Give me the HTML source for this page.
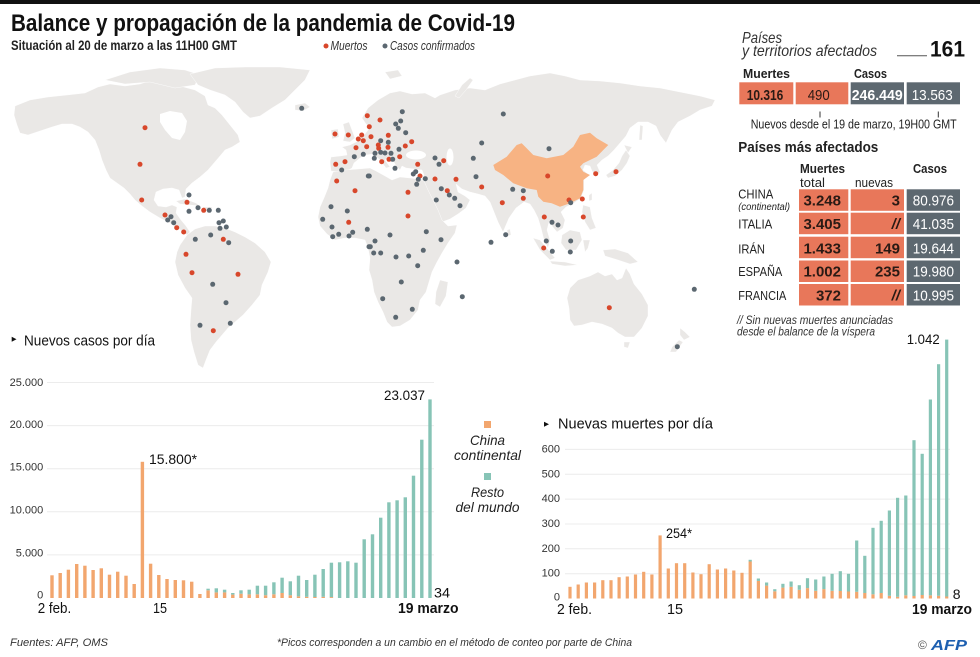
<!DOCTYPE html>
<html><head><meta charset="utf-8"><style>
html,body{margin:0;padding:0;background:#fff;}
body{width:980px;height:657px;overflow:hidden;}
svg{display:block;}
text{font-family:"Liberation Sans",Arial,sans-serif;}
</style></head><body>
<svg width="980" height="657" viewBox="0 0 980 657" xmlns="http://www.w3.org/2000/svg">
<rect x="0" y="0" width="980" height="657" fill="#fff"/>
<rect x="0" y="0" width="980" height="4" fill="#111"/>

<!-- Title -->
<text x="11" y="31" font-size="24" font-weight="bold" fill="#111" textLength="504" lengthAdjust="spacingAndGlyphs">Balance y propagación de la pandemia de Covid-19</text>
<text x="11" y="50" font-size="14" font-weight="bold" fill="#222" textLength="226" lengthAdjust="spacingAndGlyphs">Situación al 20 de marzo a las 11H00 GMT</text>
<circle cx="326" cy="46" r="2.5" fill="#d8472b"/>
<text x="330.5" y="50" font-size="13" font-style="italic" fill="#333" textLength="37" lengthAdjust="spacingAndGlyphs">Muertos</text>
<circle cx="385" cy="46" r="2.5" fill="#5b6770"/>
<text x="390" y="50" font-size="13" font-style="italic" fill="#333" textLength="85" lengthAdjust="spacingAndGlyphs">Casos confirmados</text>

<!-- MAP -->
<g fill="#eae8e6" stroke="#fff" stroke-width="0.4">
<path d="M15,106 L30,100 L48,97 L67,95 L85,93 L98,87 L110,84 L125,86 L140,84 L152,80 L165,82 L180,86 L195,90 L205,96 L208,105 L215,108 L222,115 L230,125 L238,135 L240,142 L232,147 L225,150 L220,156 L214,163 L208,170 L200,177 L192,183 L186,189 L185,197 L182,198 L179,190 L172,188 L163,189 L156,192 L154,200 L158,206 L166,207 L172,205 L177,207 L176,213 L181,220 L186,226 L190,232 L187,235 L182,231 L176,227 L168,222 L160,218 L150,212 L142,206 L135,200 L130,194 L124,188 L117,183 L110,178 L106,170 L102,160 L99,150 L95,140 L88,132 L80,127 L72,124 L62,124 L52,127 L40,131 L28,135 L20,133 L17,125 L14,115 Z"/>
<path d="M105,80 L130,72 L160,68 L185,70 L200,75 L195,85 L175,88 L150,82 L125,84 Z"/>
<path d="M190,74 L215,68 L245,67 L280,67 L310,70 L305,80 L295,90 L285,100 L272,108 L260,116 L250,118 L243,112 L235,102 L225,95 L210,90 L198,85 Z"/>
<path d="M295,105 L305,103 L310,107 L303,111 L295,110 Z"/>
<path d="M176,201 L185,199 L196,203 L200,206 L190,205 L180,204 Z"/>
<path d="M203,207 L212,207 L211,211 L203,211 Z"/>
<path d="M187,235 L195,229 L205,226 L215,226 L225,228 L235,232 L245,237 L255,243 L265,252 L271,262 L268,272 L262,285 L260,295 L252,305 L243,315 L235,322 L228,328 L222,335 L216,342 L210,350 L206,360 L203,368 L198,365 L194,352 L191,340 L190,325 L191,310 L192,298 L185,288 L178,275 L175,262 L177,252 L180,245 Z"/>
<path d="M331,171 L330,162 L331,157 L340,156 L347,155 L346,150 L342,147 L350,145 L356,142 L360,138 L365,134 L368,130 L370,127 L366,124 L362,118 L368,108 L378,100 L390,93 L400,91 L412,94 L425,93 L435,98 L440,95 L455,90 L470,88 L485,90 L500,84 L515,80 L530,76 L550,73 L565,76 L580,80 L600,81 L620,83 L640,86 L660,88 L680,92 L700,96 L715,100 L712,106 L700,110 L690,116 L678,122 L672,130 L666,143 L660,135 L656,126 L648,122 L638,122 L630,128 L626,136 L620,143 L614,150 L608,156 L602,160 L597,165 L600,172 L596,176 L592,171 L590,166 L585,165 L583,170 L588,174 L584,180 L584,190 L581,198 L574,203 L566,207 L561,212 L565,220 L563,228 L557,232 L552,226 L549,222 L547,230 L550,240 L548,248 L544,240 L541,228 L538,218 L534,210 L530,204 L524,202 L516,208 L509,218 L503,232 L498,222 L494,212 L490,202 L485,196 L478,194 L470,192 L462,189 L456,184 L458,192 L465,196 L470,200 L466,208 L458,214 L450,219 L442,222 L438,214 L433,204 L428,194 L424,186 L421,180 L424,175 L422,170 L414,169 L406,168 L402,166 L400,170 L396,166 L393,160 L388,158 L385,160 L390,167 L386,168 L380,160 L373,154 L366,155 L360,158 L354,163 L352,168 L345,172 L338,172 Z"/>
<path d="M331,130 L338,129 L339,137 L332,139 Z"/>
<path d="M343,124 L349,122 L352,130 L355,138 L350,142 L343,141 L345,133 Z"/>
<path d="M455,96 L462,85 L470,78 L473,80 L466,90 L459,98 Z"/>
<path d="M385,72 L398,70 L402,76 L390,79 Z"/>
<path d="M624,145 L632,147 L628,153 Z"/>
<path d="M626,150 L630,156 L627,163 L622,170 L615,176 L608,178 L606,175 L613,170 L619,163 L622,156 Z"/>
<path d="M640,125 L643,126 L642,140 L639,140 Z"/>
<path d="M589,195 L592,193 L592,200 L589,201 Z"/>
<path d="M507,230 L510,229 L511,235 L508,236 Z"/>
<path d="M533,238 L540,240 L550,252 L555,258 L550,260 L540,250 Z"/>
<path d="M562,235 L570,230 L580,232 L582,240 L576,250 L566,250 L561,243 Z"/>
<path d="M550,261 L565,262 L578,265 L565,266 L552,264 Z"/>
<path d="M583,240 L590,240 L588,248 L585,252 Z"/>
<path d="M583,205 L590,207 L592,218 L596,228 L590,230 L585,222 L582,212 Z"/>
<path d="M603,250 L615,249 L628,253 L638,262 L630,264 L618,260 L605,256 Z"/>
<path d="M333,172 L345,170 L358,169 L370,168 L376,171 L385,176 L392,180 L400,177 L410,178 L418,179 L424,181 L428,190 L433,200 L438,210 L442,220 L448,226 L457,225 L455,233 L448,243 L442,253 L437,262 L432,272 L429,282 L426,292 L420,300 L418,310 L410,320 L400,326 L392,327 L387,322 L383,312 L378,302 L374,292 L372,280 L369,270 L370,258 L368,248 L365,240 L355,238 L345,238 L335,240 L327,234 L320,226 L318,217 L320,207 L324,198 L328,188 L330,180 Z"/>
<path d="M440,280 L448,282 L446,296 L440,307 L435,304 L436,292 Z"/>
<path d="M570,288 L578,280 L590,276 L598,272 L605,276 L612,274 L617,280 L622,278 L626,268 L630,274 L634,284 L642,294 L648,305 L648,316 L642,328 L634,337 L625,337 L618,333 L612,328 L602,324 L592,322 L582,325 L574,326 L570,320 L569,308 L567,298 Z"/>
<path d="M624,342 L630,342 L628,348 L624,347 Z"/>
<path d="M680,328 L685,332 L690,337 L684,340 L680,335 Z"/>
<path d="M679,340 L683,342 L676,352 L670,352 L672,347 Z"/>
</g>
<path d="M160,114 L170,111 L182,113 L187,121 L185,132 L180,140 L172,138 L165,130 L160,122 Z" fill="#fff"/>
<ellipse cx="416" cy="155" rx="10" ry="4.5" fill="#fff"/>
<ellipse cx="450" cy="157" rx="3.5" ry="8.5" fill="#fff"/>
<path d="M493.3,165 L506.7,156.7 L516.7,145 L521.7,143.3 L526.7,148.3 L533.3,155 L546.7,158.3 L563.3,155 L573.3,146.7 L580,135 L590,132.7 L596.7,138.3 L608.3,145 L603.3,150 L596.7,156.7 L590,160 L583.3,163.3 L580,166.7 L583.3,171.7 L590,175 L583.3,180 L583.3,190 L580,198.3 L570,203.3 L560,206.7 L551.7,203.3 L543.3,201.7 L538.3,196.7 L536.7,190 L526.7,188.3 L513.3,183.3 L503.3,175 L495,170 Z" fill="#f7b383"/>

<g fill="#d8472b">
<circle cx="145" cy="127.7" r="2.5"/><circle cx="140" cy="164.3" r="2.5"/><circle cx="141.7" cy="200" r="2.5"/><circle cx="187" cy="202.3" r="2.5"/><circle cx="203.7" cy="210.3" r="2.5"/><circle cx="165" cy="215" r="2.5"/><circle cx="176.7" cy="227.7" r="2.5"/><circle cx="183.7" cy="232" r="2.5"/><circle cx="223.3" cy="239.3" r="2.5"/><circle cx="186" cy="254.3" r="2.5"/><circle cx="192" cy="272.7" r="2.5"/><circle cx="238" cy="274.3" r="2.5"/><circle cx="213.3" cy="330.7" r="2.5"/>
<circle cx="367.3" cy="115.7" r="2.5"/><circle cx="335" cy="134" r="2.5"/><circle cx="348.3" cy="135" r="2.5"/><circle cx="361.7" cy="135" r="2.5"/><circle cx="358.3" cy="139" r="2.5"/><circle cx="363.3" cy="140.7" r="2.5"/><circle cx="356" cy="147.7" r="2.5"/><circle cx="366.7" cy="146.7" r="2.5"/><circle cx="345" cy="161.7" r="2.5"/><circle cx="335.7" cy="164.3" r="2.5"/><circle cx="336.7" cy="181" r="2.5"/><circle cx="355" cy="190.7" r="2.5"/><circle cx="348.7" cy="222.3" r="2.5"/>
<circle cx="380" cy="120" r="2.5"/><circle cx="369.3" cy="126.7" r="2.5"/><circle cx="371" cy="136.7" r="2.5"/><circle cx="388.3" cy="135.3" r="2.5"/><circle cx="411.7" cy="141.7" r="2.5"/><circle cx="405.3" cy="146" r="2.5"/><circle cx="378.3" cy="145" r="2.5"/><circle cx="378.7" cy="148.3" r="2.5"/><circle cx="388" cy="147.3" r="2.5"/><circle cx="381.7" cy="161.7" r="2.5"/><circle cx="389" cy="159.3" r="2.5"/><circle cx="399.7" cy="156.7" r="2.5"/><circle cx="443.7" cy="160.7" r="2.5"/><circle cx="417.7" cy="164.3" r="2.5"/><circle cx="420" cy="176" r="2.5"/><circle cx="435" cy="179" r="2.5"/><circle cx="456" cy="179.3" r="2.5"/><circle cx="447.3" cy="190.7" r="2.5"/><circle cx="481.7" cy="187" r="2.5"/><circle cx="547.7" cy="176" r="2.5"/><circle cx="523.3" cy="198.3" r="2.5"/><circle cx="502.3" cy="202.7" r="2.5"/><circle cx="569" cy="200" r="2.5"/><circle cx="582.3" cy="199" r="2.5"/><circle cx="595.7" cy="173.7" r="2.5"/><circle cx="616" cy="171.7" r="2.5"/><circle cx="544.3" cy="217" r="2.5"/><circle cx="583.3" cy="217" r="2.5"/><circle cx="543.7" cy="248" r="2.5"/><circle cx="408" cy="192.3" r="2.5"/><circle cx="408" cy="216" r="2.5"/><circle cx="609.3" cy="307.7" r="2.5"/>
</g>
<g fill="#5b6770">
<circle cx="301.7" cy="108.3" r="2.5"/><circle cx="189" cy="195" r="2.5"/><circle cx="189" cy="211.3" r="2.5"/><circle cx="198" cy="207.7" r="2.5"/><circle cx="209.3" cy="210.3" r="2.5"/><circle cx="218.3" cy="210.3" r="2.5"/><circle cx="223.3" cy="221" r="2.5"/><circle cx="219" cy="222.7" r="2.5"/><circle cx="220" cy="228.3" r="2.5"/><circle cx="226.3" cy="227" r="2.5"/><circle cx="171" cy="216.7" r="2.5"/><circle cx="167.7" cy="220" r="2.5"/><circle cx="173.7" cy="222.7" r="2.5"/><circle cx="195.3" cy="239.3" r="2.5"/><circle cx="210.7" cy="235" r="2.5"/><circle cx="228.7" cy="242.7" r="2.5"/><circle cx="212.7" cy="284.3" r="2.5"/><circle cx="226" cy="302.7" r="2.5"/><circle cx="200" cy="325.3" r="2.5"/><circle cx="230.3" cy="323.3" r="2.5"/>
<circle cx="363.3" cy="154.3" r="2.5"/><circle cx="354.3" cy="156.7" r="2.5"/><circle cx="341.7" cy="170" r="2.5"/><circle cx="368.3" cy="176" r="2.5"/><circle cx="331" cy="206.7" r="2.5"/><circle cx="347.3" cy="211" r="2.5"/><circle cx="322.7" cy="219.3" r="2.5"/><circle cx="332" cy="227" r="2.5"/><circle cx="338.7" cy="234.3" r="2.5"/><circle cx="332.7" cy="236.7" r="2.5"/><circle cx="349" cy="236" r="2.5"/><circle cx="352.7" cy="232.3" r="2.5"/><circle cx="367.3" cy="229.3" r="2.5"/><circle cx="369" cy="246.7" r="2.5"/>
<circle cx="402.3" cy="111.7" r="2.5"/><circle cx="400.7" cy="121" r="2.5"/><circle cx="395.7" cy="124" r="2.5"/><circle cx="398.3" cy="128.3" r="2.5"/><circle cx="405.7" cy="132.7" r="2.5"/><circle cx="380.7" cy="140.7" r="2.5"/><circle cx="388.3" cy="142.3" r="2.5"/><circle cx="399" cy="149.3" r="2.5"/><circle cx="375" cy="153.3" r="2.5"/><circle cx="380.7" cy="152.3" r="2.5"/><circle cx="385" cy="153" r="2.5"/><circle cx="391" cy="153.3" r="2.5"/><circle cx="374.3" cy="158.3" r="2.5"/><circle cx="392.7" cy="159.3" r="2.5"/><circle cx="395" cy="168.3" r="2.5"/><circle cx="435" cy="158" r="2.5"/><circle cx="439" cy="164.3" r="2.5"/><circle cx="415.7" cy="171.7" r="2.5"/><circle cx="413.3" cy="174" r="2.5"/><circle cx="418.3" cy="179.3" r="2.5"/><circle cx="425.3" cy="178.7" r="2.5"/><circle cx="416.7" cy="184.3" r="2.5"/><circle cx="441.3" cy="188.7" r="2.5"/><circle cx="449.3" cy="195" r="2.5"/><circle cx="454.7" cy="198.3" r="2.5"/><circle cx="436.3" cy="200" r="2.5"/><circle cx="460" cy="205.7" r="2.5"/><circle cx="473.3" cy="158.3" r="2.5"/><circle cx="481.7" cy="143" r="2.5"/><circle cx="503.3" cy="114" r="2.5"/><circle cx="476" cy="176.7" r="2.5"/><circle cx="549" cy="148.7" r="2.5"/><circle cx="512.7" cy="189.3" r="2.5"/><circle cx="523.3" cy="190.7" r="2.5"/><circle cx="570.7" cy="202.7" r="2.5"/><circle cx="552" cy="222.3" r="2.5"/><circle cx="558" cy="225" r="2.5"/><circle cx="546.3" cy="241" r="2.5"/><circle cx="552.3" cy="251.3" r="2.5"/><circle cx="570.7" cy="241" r="2.5"/><circle cx="570.3" cy="252" r="2.5"/><circle cx="505.7" cy="234.7" r="2.5"/><circle cx="491" cy="242.3" r="2.5"/><circle cx="390" cy="235" r="2.5"/><circle cx="426.3" cy="231.7" r="2.5"/><circle cx="441" cy="239.7" r="2.5"/><circle cx="375" cy="241" r="2.5"/><circle cx="370.3" cy="246.7" r="2.5"/><circle cx="373.7" cy="253" r="2.5"/><circle cx="380.7" cy="253" r="2.5"/><circle cx="396" cy="257" r="2.5"/><circle cx="408.7" cy="256" r="2.5"/><circle cx="423.3" cy="250.3" r="2.5"/><circle cx="417.7" cy="265.7" r="2.5"/><circle cx="457" cy="262" r="2.5"/><circle cx="401.3" cy="282" r="2.5"/><circle cx="462.3" cy="296.7" r="2.5"/><circle cx="382.7" cy="298.7" r="2.5"/><circle cx="412.3" cy="309.3" r="2.5"/><circle cx="395.7" cy="317.3" r="2.5"/><circle cx="694.3" cy="289.3" r="2.5"/><circle cx="677.3" cy="346.7" r="2.5"/><circle cx="369.3" cy="176" r="2.5"/>
</g>

<!-- TOP RIGHT PANEL -->
<g fill="#222">
<text x="742" y="43" font-size="16" font-style="italic" fill="#333" textLength="40" lengthAdjust="spacingAndGlyphs">Países</text>
<text x="742" y="56" font-size="16" font-style="italic" fill="#333" textLength="135" lengthAdjust="spacingAndGlyphs">y territorios afectados</text>
<line x1="897" y1="55.7" x2="927" y2="55.7" stroke="#555" stroke-width="1"/>
<text x="930" y="56.5" font-size="22" font-weight="bold" fill="#111" textLength="35" lengthAdjust="spacingAndGlyphs">161</text>
<text x="743" y="78" font-size="13" font-weight="bold" textLength="47" lengthAdjust="spacingAndGlyphs">Muertes</text>
<text x="854" y="78" font-size="13" font-weight="bold" textLength="33" lengthAdjust="spacingAndGlyphs">Casos</text>
</g>
<rect x="739.3" y="82.3" width="54" height="22" fill="#e8775a"/>
<rect x="795.7" y="82.3" width="52.6" height="22" fill="#e8775a"/>
<rect x="850.7" y="82.3" width="53.3" height="22" fill="#5d6870"/>
<rect x="906.7" y="82.3" width="53.3" height="22" fill="#5d6870"/>
<text x="746.7" y="100" font-size="15" font-weight="bold" fill="#2a1a14" textLength="36.6" lengthAdjust="spacingAndGlyphs">10.316</text>
<text x="807.7" y="100" font-size="15" fill="#2a1a14" textLength="22" lengthAdjust="spacingAndGlyphs">490</text>
<text x="851.7" y="100" font-size="15" font-weight="bold" fill="#fff" textLength="51" lengthAdjust="spacingAndGlyphs">246.449</text>
<text x="911.7" y="100" font-size="15" fill="#fff" textLength="41" lengthAdjust="spacingAndGlyphs">13.563</text>
<line x1="820" y1="111.5" x2="820" y2="117.5" stroke="#333" stroke-width="1"/>
<line x1="938.3" y1="111.5" x2="938.3" y2="117.5" stroke="#333" stroke-width="1"/>
<text x="750.7" y="128.5" font-size="12.5" fill="#222" textLength="206" lengthAdjust="spacingAndGlyphs">Nuevos desde el 19 de marzo, 19H00 GMT</text>
<text x="738.3" y="152" font-size="15" font-weight="bold" fill="#222" textLength="140" lengthAdjust="spacingAndGlyphs">Países más afectados</text>

<g fill="#222">
<text x="800" y="173" font-size="13" font-weight="bold" textLength="45" lengthAdjust="spacingAndGlyphs">Muertes</text>
<text x="800" y="187" font-size="13" textLength="25" lengthAdjust="spacingAndGlyphs">total</text>
<text x="855" y="187" font-size="13" textLength="38" lengthAdjust="spacingAndGlyphs">nuevas</text>
<text x="913" y="173" font-size="13" font-weight="bold" textLength="34" lengthAdjust="spacingAndGlyphs">Casos</text>
</g>
<g fill="#e8775a">
<rect x="799" y="189.3" width="49.3" height="21.5"/><rect x="850.7" y="189.3" width="53.3" height="21.5"/>
<rect x="799" y="212.7" width="49.3" height="21.5"/><rect x="850.7" y="212.7" width="53.3" height="21.5"/>
<rect x="799" y="236.7" width="49.3" height="21.5"/><rect x="850.7" y="236.7" width="53.3" height="21.5"/>
<rect x="799" y="260.5" width="49.3" height="21.5"/><rect x="850.7" y="260.5" width="53.3" height="21.5"/>
<rect x="799" y="284" width="49.3" height="21.5"/><rect x="850.7" y="284" width="53.3" height="21.5"/>
</g>
<g fill="#5d6870">
<rect x="906.7" y="189.3" width="53.3" height="21.5"/>
<rect x="906.7" y="212.7" width="53.3" height="21.5"/>
<rect x="906.7" y="236.7" width="53.3" height="21.5"/>
<rect x="906.7" y="260.5" width="53.3" height="21.5"/>
<rect x="906.7" y="284" width="53.3" height="21.5"/>
</g>
<g fill="#222" font-size="13">
<text x="738.3" y="198.5" textLength="35" lengthAdjust="spacingAndGlyphs">CHINA</text>
<text x="738.3" y="210" font-size="10" font-style="italic" textLength="51.7" lengthAdjust="spacingAndGlyphs">(continental)</text>
<text x="738.3" y="228.3" textLength="34" lengthAdjust="spacingAndGlyphs">ITALIA</text>
<text x="738.3" y="253.3" textLength="26.7" lengthAdjust="spacingAndGlyphs">IRÁN</text>
<text x="738.3" y="276" textLength="44" lengthAdjust="spacingAndGlyphs">ESPAÑA</text>
<text x="738.3" y="300" textLength="48" lengthAdjust="spacingAndGlyphs">FRANCIA</text>
</g>
<g fill="#2a1a14" font-size="15" font-weight="bold" text-anchor="end">
<text x="841" y="205.5">3.248</text>
<text x="841" y="229">3.405</text>
<text x="841" y="253.5">1.433</text>
<text x="841" y="276.5">1.002</text>
<text x="841" y="300.5">372</text>
<text x="900" y="205.5">3</text>
<text x="900" y="229" font-style="italic">//</text>
<text x="900" y="253.5">149</text>
<text x="900" y="276.5">235</text>
<text x="900" y="300.5" font-style="italic">//</text>
</g>
<g fill="#fff" font-size="15" text-anchor="end">
<text x="954" y="205.5" textLength="41.3" lengthAdjust="spacingAndGlyphs">80.976</text>
<text x="954" y="229" textLength="41.3" lengthAdjust="spacingAndGlyphs">41.035</text>
<text x="954" y="253.5" textLength="41.3" lengthAdjust="spacingAndGlyphs">19.644</text>
<text x="954" y="276.5" textLength="41.3" lengthAdjust="spacingAndGlyphs">19.980</text>
<text x="954" y="300.5" textLength="41.3" lengthAdjust="spacingAndGlyphs">10.995</text>
</g>
<text x="737" y="324" font-size="12" font-style="italic" fill="#333" textLength="156" lengthAdjust="spacingAndGlyphs">// Sin nuevas muertes anunciadas</text>
<text x="737" y="335.5" font-size="12" font-style="italic" fill="#333" textLength="138" lengthAdjust="spacingAndGlyphs">desde el balance de la víspera</text>

<!-- LEFT CHART -->
<path d="M11.7,336.7 L16.5,339.2 L11.7,341.7 Z" fill="#111"/>
<text x="24" y="345.7" font-size="15" fill="#111" textLength="131" lengthAdjust="spacingAndGlyphs">Nuevos casos por día</text>
<g stroke="#ececec" stroke-width="1">
<line x1="47" y1="382.5" x2="434" y2="382.5"/>
<line x1="47" y1="425.6" x2="434" y2="425.6"/>
<line x1="47" y1="468.7" x2="434" y2="468.7"/>
<line x1="47" y1="511.8" x2="434" y2="511.8"/>
<line x1="47" y1="554.9" x2="434" y2="554.9"/>
</g>
<g font-size="11" fill="#333" text-anchor="end">
<text x="43.3" y="386">25.000</text>
<text x="43.3" y="428">20.000</text>
<text x="43.3" y="470.5">15.000</text>
<text x="43.3" y="513.5">10.000</text>
<text x="43.3" y="556.5">5.000</text>
<text x="43.3" y="598.5">0</text>
</g>
<g fill="#f2a66e">
<rect x="50.3" y="575.3" width="3.4" height="22.7"/>
<rect x="58.5" y="573" width="3.4" height="25"/>
<rect x="66.7" y="569.7" width="3.4" height="28.3"/>
<rect x="75" y="564" width="3.4" height="34"/>
<rect x="83.2" y="565.7" width="3.4" height="32.3"/>
<rect x="91.4" y="570" width="3.4" height="28"/>
<rect x="99.6" y="568.3" width="3.4" height="29.7"/>
<rect x="107.8" y="574.7" width="3.4" height="23.3"/>
<rect x="116" y="571.7" width="3.4" height="26.3"/>
<rect x="124.3" y="575.7" width="3.4" height="22.3"/>
<rect x="132.5" y="584" width="3.4" height="14"/>
<rect x="140.7" y="461.8" width="3.4" height="136.2"/>
<rect x="148.9" y="563.7" width="3.4" height="34.3"/>
<rect x="157.1" y="575" width="3.4" height="23"/>
<rect x="165.3" y="579" width="3.4" height="19"/>
<rect x="173.6" y="580" width="3.4" height="18"/>
<rect x="181.8" y="580.3" width="3.4" height="17.7"/>
<rect x="190" y="581.7" width="3.4" height="16.3"/>
<rect x="198.2" y="594" width="3.4" height="4"/>
<rect x="206.4" y="590.3" width="3.4" height="7.7"/>
<rect x="214.6" y="592.4" width="3.4" height="5.6"/>
<rect x="222.9" y="592.4" width="3.4" height="5.6"/>
<rect x="231.1" y="594.6" width="3.4" height="3.4"/>
<rect x="239.3" y="593.7" width="3.4" height="4.3"/>
<rect x="247.5" y="594.4" width="3.4" height="3.6"/>
<rect x="255.7" y="594.3" width="3.4" height="3.7"/>
<rect x="263.9" y="595.2" width="3.4" height="2.8"/>
<rect x="272.2" y="594.3" width="3.4" height="3.7"/>
<rect x="280.4" y="593" width="3.4" height="5"/>
<rect x="288.6" y="595.2" width="3.4" height="2.8"/>
<rect x="296.8" y="596.3" width="3.4" height="1.7"/>
<rect x="305" y="596.8" width="3.4" height="1.2"/>
<rect x="313.2" y="597" width="3.4" height="1"/>
<rect x="321.5" y="596.8" width="3.4" height="1.2"/>
<rect x="329.7" y="597.1" width="3.4" height="0.9"/>
</g>
<g fill="#87c4b6">
<rect x="206.4" y="588.7" width="3.4" height="1.6"/>
<rect x="214.6" y="588.3" width="3.4" height="4.1"/>
<rect x="222.9" y="589.7" width="3.4" height="2.7"/>
<rect x="231.1" y="593" width="3.4" height="1.6"/>
<rect x="239.3" y="590.3" width="3.4" height="3.4"/>
<rect x="247.5" y="589.7" width="3.4" height="4.7"/>
<rect x="255.7" y="585.7" width="3.4" height="8.6"/>
<rect x="263.9" y="585.7" width="3.4" height="9.5"/>
<rect x="272.2" y="582.3" width="3.4" height="12"/>
<rect x="280.4" y="577.7" width="3.4" height="15.3"/>
<rect x="288.6" y="581.3" width="3.4" height="13.9"/>
<rect x="296.8" y="575.7" width="3.4" height="20.6"/>
<rect x="305" y="580" width="3.4" height="16.8"/>
<rect x="313.2" y="574.7" width="3.4" height="22.3"/>
<rect x="321.5" y="569" width="3.4" height="27.8"/>
<rect x="329.7" y="562.7" width="3.4" height="34.4"/>
<rect x="337.9" y="562.3" width="3.4" height="35.7"/>
<rect x="346.1" y="561.3" width="3.4" height="36.7"/>
<rect x="354.3" y="562.7" width="3.4" height="35.3"/>
<rect x="362.5" y="539.3" width="3.4" height="58.7"/>
<rect x="370.8" y="534.3" width="3.4" height="63.7"/>
<rect x="379" y="517.7" width="3.4" height="80.3"/>
<rect x="387.2" y="502.3" width="3.4" height="95.7"/>
<rect x="395.4" y="500.3" width="3.4" height="97.7"/>
<rect x="403.6" y="497.3" width="3.4" height="100.7"/>
<rect x="411.8" y="475.7" width="3.4" height="122.3"/>
<rect x="420.1" y="439.7" width="3.4" height="158.3"/>
<rect x="428.3" y="399.4" width="3.4" height="198.6"/>
</g>
<text x="149" y="464" font-size="14" fill="#111" textLength="48" lengthAdjust="spacingAndGlyphs">15.800*</text>
<text x="384" y="400" font-size="14" fill="#111" textLength="41" lengthAdjust="spacingAndGlyphs">23.037</text>
<text x="434" y="597.5" font-size="14" fill="#111" textLength="16" lengthAdjust="spacingAndGlyphs">34</text>
<text x="37.7" y="613" font-size="15" fill="#111" textLength="33.5" lengthAdjust="spacingAndGlyphs">2 feb.</text>
<text x="153" y="613" font-size="15" fill="#111" textLength="14" lengthAdjust="spacingAndGlyphs">15</text>
<text x="398" y="613" font-size="15" font-weight="bold" fill="#111" textLength="60.5" lengthAdjust="spacingAndGlyphs">19 marzo</text>

<!-- Middle legend -->
<rect x="484" y="421" width="7" height="7" fill="#f2a66e"/>
<text x="487.5" y="445" font-size="14" font-style="italic" fill="#222" text-anchor="middle" textLength="35" lengthAdjust="spacingAndGlyphs">China</text>
<text x="487.5" y="460" font-size="14" font-style="italic" fill="#222" text-anchor="middle" textLength="67" lengthAdjust="spacingAndGlyphs">continental</text>
<rect x="484" y="473" width="7" height="7" fill="#87c4b6"/>
<text x="487.5" y="497" font-size="14" font-style="italic" fill="#222" text-anchor="middle" textLength="33" lengthAdjust="spacingAndGlyphs">Resto</text>
<text x="487.5" y="512" font-size="14" font-style="italic" fill="#222" text-anchor="middle" textLength="64" lengthAdjust="spacingAndGlyphs">del mundo</text>

<!-- RIGHT CHART -->
<path d="M544,421.7 L549,424.2 L544,426.7 Z" fill="#111"/>
<text x="558" y="428.7" font-size="15" fill="#111" textLength="155" lengthAdjust="spacingAndGlyphs">Nuevas muertes por día</text>
<g stroke="#ececec" stroke-width="1">
<line x1="565" y1="449.4" x2="950" y2="449.4"/>
<line x1="565" y1="474.3" x2="950" y2="474.3"/>
<line x1="565" y1="499.1" x2="950" y2="499.1"/>
<line x1="565" y1="524" x2="950" y2="524"/>
<line x1="565" y1="548.8" x2="950" y2="548.8"/>
<line x1="565" y1="573.7" x2="950" y2="573.7"/>
</g>
<g font-size="11" fill="#333" text-anchor="end">
<text x="560" y="452.5">600</text>
<text x="560" y="477.3">500</text>
<text x="560" y="502.1">400</text>
<text x="560" y="527">300</text>
<text x="560" y="551.8">200</text>
<text x="560" y="576.7">100</text>
<text x="560" y="600.5">0</text>
</g>
<g fill="#f2a66e">
<rect x="568.4" y="586.8" width="3.2" height="11.7"/>
<rect x="576.6" y="584.5" width="3.2" height="14"/>
<rect x="584.8" y="582.5" width="3.2" height="16"/>
<rect x="593" y="582.5" width="3.2" height="16"/>
<rect x="601.2" y="580.2" width="3.2" height="18.3"/>
<rect x="609.4" y="580.2" width="3.2" height="18.3"/>
<rect x="617.5" y="577.2" width="3.2" height="21.3"/>
<rect x="625.7" y="576.5" width="3.2" height="22"/>
<rect x="633.9" y="574.5" width="3.2" height="24"/>
<rect x="642.1" y="571.8" width="3.2" height="26.7"/>
<rect x="650.3" y="574.5" width="3.2" height="24"/>
<rect x="658.5" y="535.4" width="3.2" height="63.1"/>
<rect x="666.7" y="568.5" width="3.2" height="30"/>
<rect x="674.9" y="563.2" width="3.2" height="35.3"/>
<rect x="683.1" y="563.2" width="3.2" height="35.3"/>
<rect x="691.3" y="572.5" width="3.2" height="26"/>
<rect x="699.4" y="574.2" width="3.2" height="24.3"/>
<rect x="707.6" y="564.2" width="3.2" height="34.3"/>
<rect x="715.8" y="569.5" width="3.2" height="29"/>
<rect x="724" y="568.5" width="3.2" height="30"/>
<rect x="732.2" y="570.5" width="3.2" height="28"/>
<rect x="740.4" y="572.8" width="3.2" height="25.7"/>
<rect x="748.6" y="561.5" width="3.2" height="37"/>
<rect x="756.8" y="580.9" width="3.2" height="17.6"/>
<rect x="765" y="585.6" width="3.2" height="12.9"/>
<rect x="773.2" y="591.3" width="3.2" height="7.2"/>
<rect x="781.3" y="587.6" width="3.2" height="10.9"/>
<rect x="789.5" y="586.8" width="3.2" height="11.7"/>
<rect x="797.7" y="589.8" width="3.2" height="8.7"/>
<rect x="805.9" y="588.1" width="3.2" height="10.4"/>
<rect x="814.1" y="590.8" width="3.2" height="7.7"/>
<rect x="822.3" y="589.1" width="3.2" height="9.4"/>
<rect x="830.5" y="590.8" width="3.2" height="7.7"/>
<rect x="838.7" y="591" width="3.2" height="7.5"/>
<rect x="846.9" y="591.5" width="3.2" height="7"/>
<rect x="855.1" y="591.8" width="3.2" height="6.7"/>
<rect x="863.2" y="593" width="3.2" height="5.5"/>
<rect x="871.4" y="594.3" width="3.2" height="4.2"/>
<rect x="879.6" y="593" width="3.2" height="5.5"/>
<rect x="887.8" y="595.8" width="3.2" height="2.7"/>
<rect x="896" y="596.8" width="3.2" height="1.7"/>
<rect x="904.2" y="595.3" width="3.2" height="3.2"/>
<rect x="912.4" y="596" width="3.2" height="2.5"/>
<rect x="920.6" y="595" width="3.2" height="3.5"/>
<rect x="928.8" y="595.3" width="3.2" height="3.2"/>
<rect x="937" y="595.8" width="3.2" height="2.7"/>
<rect x="945.1" y="596.5" width="3.2" height="2"/>
</g>
<g fill="#87c4b6">
<rect x="748.6" y="559.8" width="3.2" height="1.7"/>
<rect x="756.8" y="578.5" width="3.2" height="2.4"/>
<rect x="765" y="582.5" width="3.2" height="3.1"/>
<rect x="773.2" y="589.2" width="3.2" height="2.1"/>
<rect x="781.3" y="583.8" width="3.2" height="3.8"/>
<rect x="789.5" y="581.5" width="3.2" height="5.3"/>
<rect x="797.7" y="585.2" width="3.2" height="4.6"/>
<rect x="805.9" y="578.2" width="3.2" height="9.9"/>
<rect x="814.1" y="579.5" width="3.2" height="11.3"/>
<rect x="822.3" y="576.5" width="3.2" height="12.6"/>
<rect x="830.5" y="573.8" width="3.2" height="17"/>
<rect x="838.7" y="571.2" width="3.2" height="19.8"/>
<rect x="846.9" y="573.8" width="3.2" height="17.7"/>
<rect x="855.1" y="540.5" width="3.2" height="51.3"/>
<rect x="863.2" y="555.8" width="3.2" height="37.2"/>
<rect x="871.4" y="527.8" width="3.2" height="66.5"/>
<rect x="879.6" y="520.8" width="3.2" height="72.2"/>
<rect x="887.8" y="510.5" width="3.2" height="85.3"/>
<rect x="896" y="497.8" width="3.2" height="99"/>
<rect x="904.2" y="495.5" width="3.2" height="99.8"/>
<rect x="912.4" y="440.2" width="3.2" height="155.8"/>
<rect x="920.6" y="453.8" width="3.2" height="141.2"/>
<rect x="928.8" y="399.5" width="3.2" height="195.8"/>
<rect x="937" y="364.2" width="3.2" height="231.6"/>
<rect x="945.1" y="339.6" width="3.2" height="256.9"/>
</g>
<text x="666" y="538" font-size="14" fill="#111" textLength="26" lengthAdjust="spacingAndGlyphs">254*</text>
<text x="906.7" y="344" font-size="14" fill="#111" textLength="33" lengthAdjust="spacingAndGlyphs">1.042</text>
<text x="952.7" y="599" font-size="14" fill="#111">8</text>
<text x="557" y="614" font-size="15" fill="#111" textLength="35" lengthAdjust="spacingAndGlyphs">2 feb.</text>
<text x="667" y="614" font-size="15" fill="#111" textLength="16" lengthAdjust="spacingAndGlyphs">15</text>
<text x="912" y="614" font-size="15" font-weight="bold" fill="#111" textLength="60" lengthAdjust="spacingAndGlyphs">19 marzo</text>

<!-- Footer -->
<text x="10" y="646" font-size="11" font-style="italic" fill="#333" textLength="98" lengthAdjust="spacingAndGlyphs">Fuentes: AFP, OMS</text>
<text x="277" y="646" font-size="11" font-style="italic" fill="#333" textLength="355" lengthAdjust="spacingAndGlyphs">*Picos corresponden a un cambio en el método de conteo por parte de China</text>
<text x="918" y="649" font-size="12" fill="#555">©</text>
<text x="931" y="650" font-size="15" font-weight="bold" font-style="italic" fill="#1d5fb0" textLength="36" lengthAdjust="spacingAndGlyphs">AFP</text>
</svg>
</body></html>
